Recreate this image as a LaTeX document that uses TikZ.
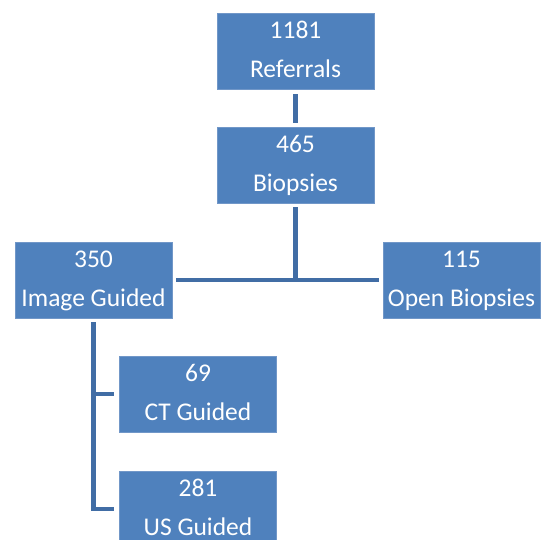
\documentclass[tikz,border=0pt]{standalone}
\usepackage{fontspec}
\setmainfont{Carlito}
\begin{document}
\begin{tikzpicture}[x=1pt,y=-1pt,
  box/.style={fill=boxblue, draw=boxedge, line width=0.6pt, minimum width=157pt,
    minimum height=76pt, inner sep=0pt},
  txt/.style={text=white, font=\fontsize{25.5}{30}\selectfont, anchor=base, inner sep=0pt},
  conn/.style={draw=linkblue, line width=4.5pt, line cap=butt}]
\definecolor{boxblue}{HTML}{4F81BD}
\definecolor{boxedge}{HTML}{7197C8}
\definecolor{linkblue}{HTML}{416DA5}
\useasboundingbox (0,0) rectangle (541,539);

% boxes
\node[box] (ref)  at (295.5,51)  {};
\node[box] (bio)  at (295.5,165) {};
\node[box] (img)  at (93.5,280)  {};
\node[box] (open) at (461.5,280) {};
\node[box] (ct)   at (198,394)   {};
\node[box] (us)   at (198,509)   {};

% two-line labels: count on top, category below
\node[txt] (ref-n)  at ([yshift=-26pt]ref.north)  {1181};
\node[txt] (ref-l)  at ([yshift=-65pt]ref.north)  {Referrals};
\node[txt] (bio-n)  at ([yshift=-26pt]bio.north)  {465};
\node[txt] (bio-l)  at ([yshift=-65pt]bio.north)  {Biopsies};
\node[txt] (img-n)  at ([yshift=-26pt]img.north)  {350};
\node[txt] (img-l)  at ([yshift=-65pt]img.north)  {Image Guided};
\node[txt] (open-n) at ([yshift=-26pt]open.north) {115};
\node[txt] (open-l) at ([yshift=-65pt]open.north) {Open Biopsies};
\node[txt] (ct-n)   at ([yshift=-26pt]ct.north)   {69};
\node[txt] (ct-l)   at ([yshift=-65pt]ct.north)   {CT Guided};
\node[txt] (us-n)   at ([yshift=-26pt]us.north)   {281};
\node[txt] (us-l)   at ([yshift=-65pt]us.north)   {US Guided};

% connectors
\draw[conn, shorten <=5pt, shorten >=4pt] (ref.south) -- (bio.north);
\draw[conn, shorten <=4pt] (bio.south) -- (bio.south |- img.east);
\draw[conn, shorten <=4pt, shorten >=4pt] (img.east) -- (open.west);
\draw[conn, shorten <=4pt, shorten >=5pt] (img.south) |- (ct.west);
\draw[conn, shorten <=4pt, shorten >=5pt] (img.south) |- (us.west);
\end{tikzpicture}
\end{document}
